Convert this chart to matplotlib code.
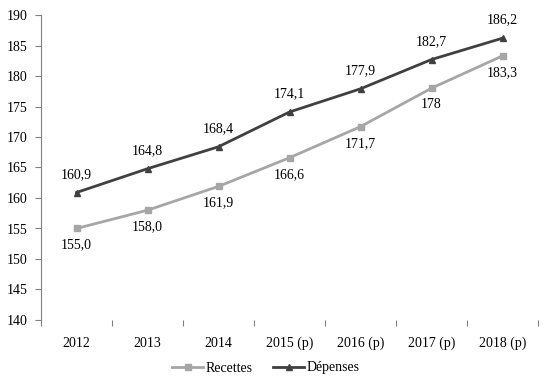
import matplotlib.pyplot as plt
import numpy as np

years = ['2012', '2013', '2014', '2015 (p)', '2016 (p)', '2017 (p)', '2018 (p)']
recettes = [155.0, 158.0, 161.9, 166.6, 171.7, 178.0, 183.3]
depenses = [160.9, 164.8, 168.4, 174.1, 177.9, 182.7, 186.2]
recettes_labels = ['155,0', '158,0', '161,9', '166,6', '171,7', '178', '183,3']
depenses_labels = ['160,9', '164,8', '168,4', '174,1', '177,9', '182,7', '186,2']

plt.rcParams['font.family'] = ['Liberation Serif', 'DejaVu Serif']

dark = '#404040'
light = '#A6A6A6'

fig = plt.figure(figsize=(5.53, 3.9), dpi=100)
ax = fig.add_axes([41 / 553, 1 - 320 / 390, (538 - 41) / 553, (320 - 15) / 390])

x = np.arange(len(years))
ax.plot(x, recettes, color=light, lw=2, marker='s', ms=5, label='Recettes')
ax.plot(x, depenses, color=dark, lw=2, marker='^', ms=5, label='Dépenses')

for xi, v, t in zip(x, recettes, recettes_labels):
    ax.annotate(t, (xi, v), xytext=(0, -12), textcoords='offset points',
                ha='center', va='center', fontsize=10, color='black')
for xi, v, t in zip(x, depenses, depenses_labels):
    ax.annotate(t, (xi, v), xytext=(0, 13), textcoords='offset points',
                ha='center', va='center', fontsize=10, color='black')

ax.set_xlim(-0.5, len(years) - 0.5)
ax.set_ylim(140, 190)
ax.set_yticks(np.arange(140, 191, 5))
ax.set_xticks(x)
ax.set_xticklabels(years)
ax.set_xticks(np.arange(-0.5, len(years)), minor=True)
ax.tick_params(axis='x', which='major', length=0, pad=12, labelsize=10)
ax.tick_params(axis='x', which='minor', length=4, color='#808080', width=0.8)
ax.tick_params(axis='y', length=4, color='#808080', width=0.8, pad=6, labelsize=10)

for s in ['top', 'right', 'bottom']:
    ax.spines[s].set_visible(False)
ax.spines['left'].set_color('#808080')
ax.spines['left'].set_linewidth(0.8)

fig.legend(loc='center', bbox_to_anchor=(266 / 553, 1 - 368 / 390), ncol=2,
           frameon=False, fontsize=10, handlelength=2.2, columnspacing=1.5,
           handletextpad=0.2, markerscale=0.9)

fig.savefig('out.png', dpi=100)
